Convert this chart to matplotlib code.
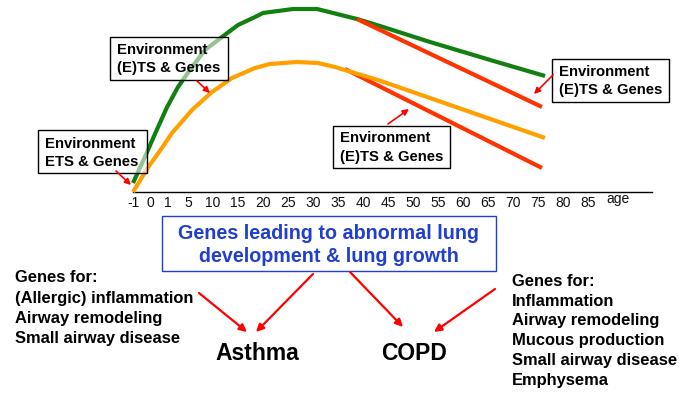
import numpy as np
import matplotlib
matplotlib.use("Agg")
import matplotlib.pyplot as plt
from matplotlib.patches import Rectangle

plt.rcParams['font.family'] = ['Liberation Sans', 'DejaVu Sans']

# ---------------- data ----------------
tick_ages = [-1, 0, 1, 5, 10, 15, 20, 25, 30, 35, 40, 45, 50, 55, 60, 65, 70, 75, 80, 85]
tick_labels = [str(a) for a in tick_ages]

# normal lung growth & decline (green)
green_age = [-1, -0.3, 0.3, 0.95, 3.0, 5.8, 8.4, 11.8, 15, 18.4, 20, 26, 30.8, 34.8,
             38.8, 43.4, 53.4, 66.8, 76.4]
green_val = [9, 35, 59, 85, 105, 125, 142, 155, 167, 175, 179, 183, 183, 178,
             173, 166, 150, 130, 116]

# impaired lung growth (orange)
orange_age = [-1, -0.1, 0.7, 1.8, 5.8, 9.8, 13.8, 18.4, 21.4, 26.8, 31, 34.4, 37,
              43, 53.4, 76.4]
orange_val = [0, 25, 45, 59, 82, 100, 114, 124, 128, 130, 129, 125, 121,
              112, 94, 54]

# accelerated decline (red)
red_hi_age = [38.8, 75.8]
red_hi_val = [173, 85]
red_lo_age = [36.4, 75.8]
red_lo_val = [123, 24]

env_boxes = [["Environment", "(E)TS & Genes"],
             ["Environment", "ETS & Genes"],
             ["Environment", "(E)TS & Genes"],
             ["Environment", "(E)TS & Genes"]]
genes_left = ["Genes for:", "(Allergic) inflammation", "Airway remodeling", "Small airway disease"]
genes_right = ["Genes for:", "Inflammation", "Airway remodeling", "Mucous production",
               "Small airway disease", "Emphysema"]
blue_text = ["Genes leading to abnormal lung", "development & lung growth"]

# ---------------- figure ----------------
W, H = 697, 417
fig = plt.figure(figsize=(W / 100, H / 100), dpi=100)

# chart axes (axis line from x=133 to 652 px, baseline at y=192 px)
ax = fig.add_axes([133 / W, (H - 192) / H, (652 - 133) / W, 192 / H])
brk_age = np.array([-1, 0, 1, 5, 100])
brk_px = np.array([0, 17, 35, 55, 55 + 95 * 5])

def fwd(a):
    return np.interp(a, brk_age, brk_px)

def inv(p):
    return np.interp(p, brk_px, brk_age)

ax.set_xscale('function', functions=(fwd, inv))
ax.set_xlim(-1, inv(519))
ax.set_ylim(0, 192)
ax.patch.set_visible(False)
for s in ['top', 'right', 'left']:
    ax.spines[s].set_visible(False)
ax.spines['bottom'].set_color('black')
ax.spines['bottom'].set_linewidth(1.0)
ax.set_yticks([])
ax.set_xticks(tick_ages)
ax.set_xticklabels(tick_labels)
ax.xaxis.set_minor_locator(matplotlib.ticker.NullLocator())
ax.tick_params(axis='x', length=0, pad=3, labelsize=10, labelcolor='#111111')

lw = 3.0
kw = dict(clip_on=False, solid_capstyle='butt', solid_joinstyle='round')
ax.plot(green_age, green_val, color='#118011', lw=lw, zorder=2, **kw)
ax.plot(orange_age, orange_val, color='#FFA000', lw=lw, zorder=3, **kw)
ax.plot(red_hi_age, red_hi_val, color='#FF3300', lw=lw, zorder=4, **kw)
ax.plot(red_lo_age, red_lo_val, color='#FF3300', lw=lw, zorder=2.5, **kw)

# overlay axes in pixel coordinates
ov = fig.add_axes([0, 0, 1, 1], zorder=5)
ov.set_xlim(0, W)
ov.set_ylim(H, 0)
ov.axis('off')
ov.patch.set_visible(False)

ov.text(618, 199, "age", fontsize=10, ha='center', va='center', color='#111111')

box_rects = [(110, 37, 228, 80), (38, 130, 147, 173), (333, 126, 450, 168), (552, 59, 669, 102)]
box_text_x = [117, 45, 340, 559]
box_text_y = [(50, 68), (144, 162), (138, 157), (72, 90)]
for (x0, y0, x1, y1), lines, tx, tys in zip(box_rects, env_boxes, box_text_x, box_text_y):
    ov.add_patch(Rectangle((x0, y0), x1 - x0, y1 - y0, facecolor=(1, 1, 1, 0.55),
                           edgecolor='black', lw=1.0))
    for line, ty in zip(lines, tys):
        ov.text(tx, ty, line, fontsize=10.7, fontweight='bold', ha='left', va='center')

def arrow(tail, head, lw=1.2, ms=9):
    ov.annotate('', xy=head, xytext=tail,
                arrowprops=dict(arrowstyle='-|>', color='#FF0000', lw=lw,
                                mutation_scale=ms, shrinkA=0, shrinkB=0))

arrow((197, 81), (210, 93))
arrow((116, 171), (131, 185))
arrow((388, 124), (409, 109))
arrow((553, 75), (534, 94))

# blue box
ov.add_patch(Rectangle((162, 216), 496 - 162, 271 - 216, facecolor='white',
                       edgecolor='#1f3fd1', lw=1.0))
for line, ty in zip(blue_text, (233, 257)):
    ov.text(329, ty, line, fontsize=14.2, fontweight='bold', color='#1f3fd1',
            ha='center', va='center')

for i, line in enumerate(genes_left):
    ov.text(15, 278 + i * 20, line, fontsize=11.9, fontweight='bold', ha='left', va='center')
for i, line in enumerate(genes_right):
    ov.text(512, 281 + i * 20, line, fontsize=11.9, fontweight='bold', ha='left', va='center')

ov.text(257, 353, "Asthma", fontsize=16.5, fontweight='bold', ha='center', va='center')
ov.text(414, 353, "COPD", fontsize=16.5, fontweight='bold', ha='center', va='center')

arrow((199, 293), (247, 332), lw=1.6, ms=11)
arrow((313, 274), (256, 332), lw=1.6, ms=11)
arrow((350, 272), (403, 327), lw=1.6, ms=11)
arrow((495, 289), (434, 332), lw=1.6, ms=11)

fig.savefig("out.png", dpi=100)
